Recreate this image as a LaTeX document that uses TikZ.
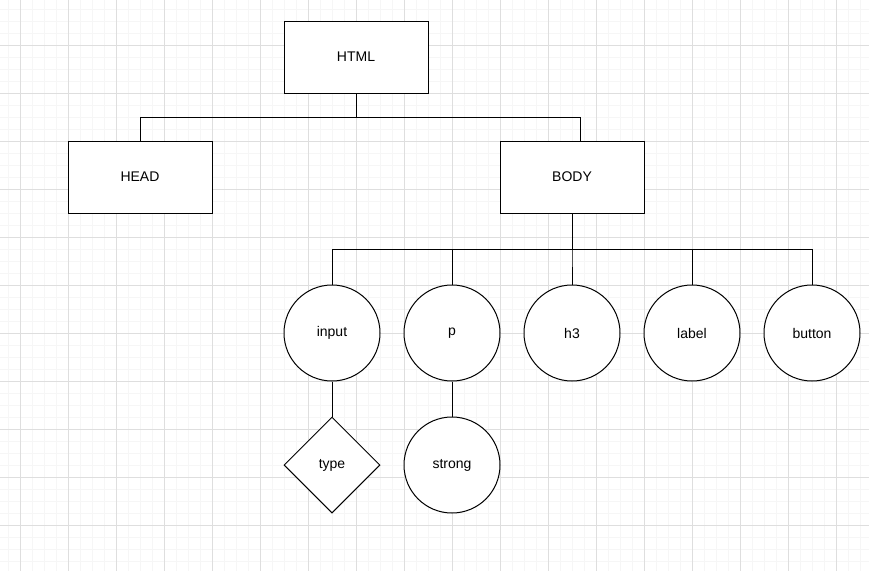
\documentclass[tikz,border=0pt]{standalone}
\usepackage{fontspec}
\setmainfont{Liberation Sans}
\usetikzlibrary{shapes.geometric}

\definecolor{GridMinor}{HTML}{F6F6F6}
\definecolor{GridMajor}{HTML}{DEDEDE}

\tikzset{
  tag/.style={draw, line width=0.75pt, fill=white, minimum width=108pt, minimum height=54pt, text depth=0pt, font=\fontsize{10.5}{12}\selectfont},
  elem/.style={draw, circle, line width=0.75pt, fill=white, inner sep=0pt, minimum size=72pt, font=\fontsize{10.5}{12}\selectfont},
  attr/.style={draw, diamond, aspect=1, line width=0.75pt, fill=white, inner sep=0pt, minimum width=72pt, minimum height=72pt, font=\fontsize{10.5}{12}\selectfont},
  link/.style={line width=0.75pt}
}

\begin{document}
\begin{tikzpicture}[x=0.75pt, y=-0.75pt]

 %%%%%%%%%% Fond et grille %%%%%%%%%%
 \useasboundingbox (0,0) rectangle (869,571);
 \fill [white] (0,0) rectangle (869,571);
 \foreach \x in {8,20,...,868} \draw [GridMinor, line width=0.6pt] (\x,0) -- (\x,571);
 \foreach \y in {9,21,...,570} \draw [GridMinor, line width=0.6pt] (0,\y) -- (869,\y);
 \foreach \x in {20,68,...,868} \draw [GridMajor, line width=0.6pt] (\x,0) -- (\x,571);
 \foreach \y in {45,93,...,570} \draw [GridMajor, line width=0.6pt] (0,\y) -- (869,\y);

 %%%%%%%%%% Boites %%%%%%%%%%
 \node [tag] (html) at (356,57) {HTML};
 \node [tag] (head) at (140,177) {HEAD};
 \node [tag] (body) at (572,177) {BODY};
 \coordinate (bodyin) at (580,141);

 %%%%%%%%%% Elements %%%%%%%%%%
 \node [elem] (input) at (332,333) {input};
 \node [elem] (p) at (452,333) {p};
 \node [elem] (h3) at (572,333) {h3};
 \node [elem] (label) at (692,333) {label};
 \node [elem] (button) at (812,333) {button};
 \node [attr] (type) at (332,465) {type};
 \node [elem] (strong) at (452,465) {strong};

 %%%%%%%%%% Liens %%%%%%%%%%
 \draw [link] (html.south) -- ++(0,24) -| (head.north);
 \draw [link] (html.south) -- ++(0,24) -| (bodyin);
 \foreach \e in {input,p,h3,label,button}
   \draw [link] (body.south) -- ++(0,36) -| (\e.north);
 \draw [link] (input.south) -- (type.north);
 \draw [link] (p.south) -- (strong.north);

\end{tikzpicture}
\end{document}
